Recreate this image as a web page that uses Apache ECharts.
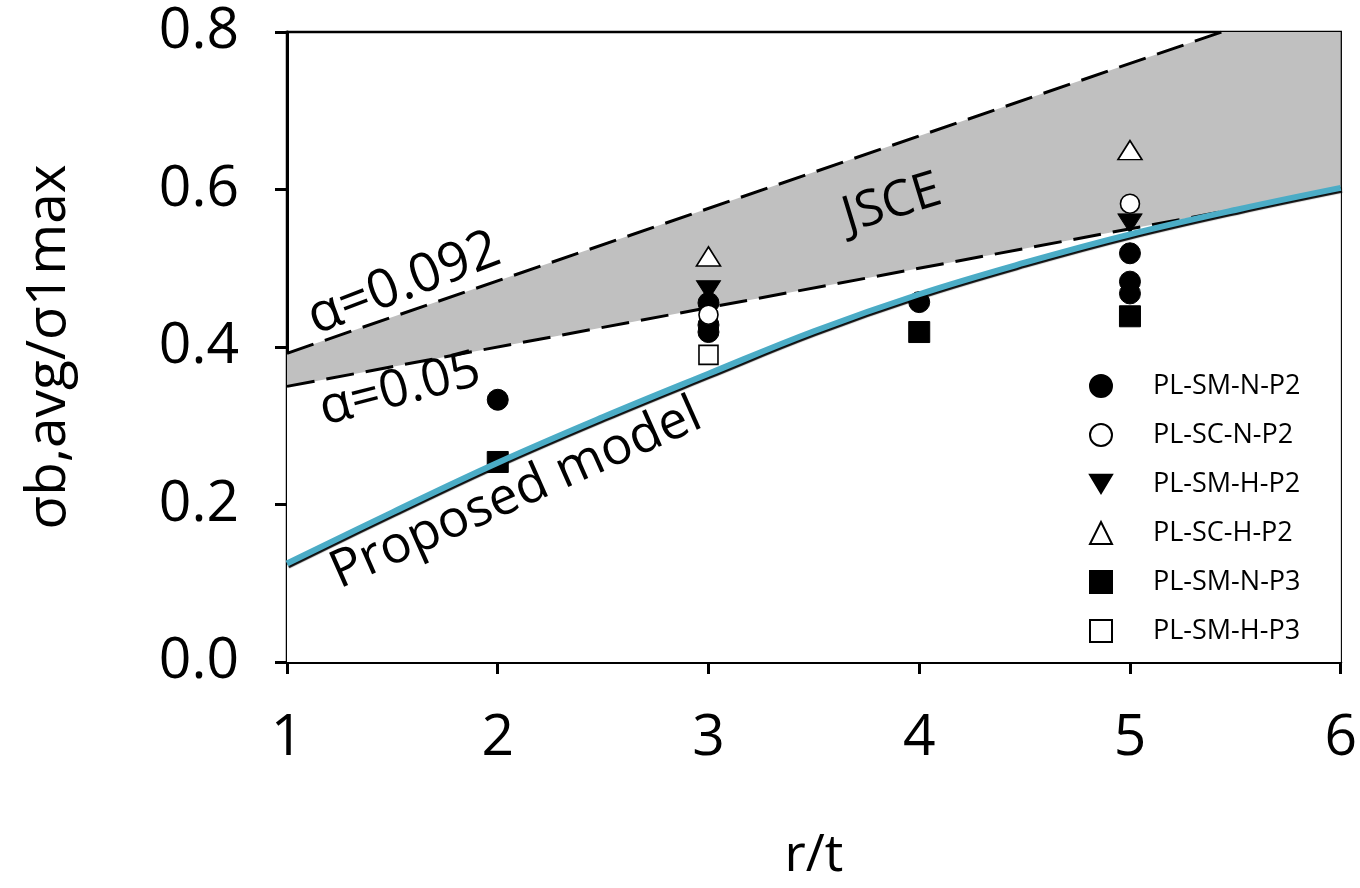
<!DOCTYPE html>
<html>
<head>
<meta charset="utf-8">
<script src="https://cdn.jsdelivr.net/npm/echarts@6/dist/echarts.min.js"></script>
<style>html,body{margin:0;padding:0;background:#fff;}#c{width:1360px;height:888px;}</style>
</head>
<body>
<div id="c"></div>
<script>
// ---- data ----
var xTicks = [1, 2, 3, 4, 5, 6];
var yTicks = [0.0, 0.2, 0.4, 0.6, 0.8];

// JSCE bounds (straight lines), endpoints at r/t = 1 and 6
var jsceX = [1, 6];
var jsceUpper = [0.392, 0.852];   // alpha = 0.092
var jsceLower = [0.350, 0.600];   // alpha = 0.05

// Proposed model curve
var modelX = [1, 1.5, 2, 2.5, 3, 3.5, 4, 4.5, 5, 5.5, 6];
var modelY = [0.125, 0.190, 0.253, 0.311, 0.366, 0.420, 0.467, 0.507, 0.543, 0.574, 0.602];

// Test results
var smNP2 = [[2, 0.333], [3, 0.456], [3, 0.428], [3, 0.419], [4, 0.457], [5, 0.519], [5, 0.483], [5, 0.468]];
var scNP2 = [[3, 0.441], [5, 0.582]];
var smHP2 = [[3, 0.472], [5, 0.557]];
var scHP2 = [[3, 0.515], [5, 0.650]];
var smNP3 = [[2, 0.254], [4, 0.419], [5, 0.439]];
var smHP3 = [[3, 0.390]];

var seriesNames = ['PL-SM-N-P2', 'PL-SC-N-P2', 'PL-SM-H-P2', 'PL-SC-H-P2', 'PL-SM-N-P3', 'PL-SM-H-P3'];

// ---- build ----
function zip(xs, ys) { return xs.map(function (x, i) { return [x, ys[i]]; }); }
var FONT = 'Open Sans';
var triDown = 'path://M0,0L24,0L12,20Z';

var chart = echarts.init(document.getElementById('c'), null, { renderer: 'canvas' });
var filled = { color: '#000', borderColor: '#000', borderWidth: 1, opacity: 1 };
var open = { color: '#fff', borderColor: '#000', borderWidth: 1.6, opacity: 1 };

var option = {
  animation: false,
  backgroundColor: '#fff',
  grid: { left: 287, right: 18, top: 32, bottom: 226, show: true, borderColor: '#000', borderWidth: 2.5, backgroundColor: 'transparent' },
  xAxis: {
    type: 'value', min: xTicks[0], max: xTicks[xTicks.length - 1], interval: 1,
    name: 'r/t', nameLocation: 'middle', nameGap: 168,
    nameTextStyle: { fontFamily: FONT, fontSize: 52, color: '#000' },
    axisLine: { show: true, onZero: false, lineStyle: { color: '#000', width: 3 } },
    axisTick: { show: true, inside: false, length: 12, lineStyle: { color: '#000', width: 3 } },
    axisLabel: { fontFamily: FONT, fontSize: 57, color: '#000', margin: 48 },
    splitLine: { show: false }
  },
  yAxis: {
    type: 'value', min: yTicks[0], max: yTicks[yTicks.length - 1], interval: 0.2,
    name: 'σb,avg/σ1max', nameLocation: 'middle', nameGap: 210, nameRotate: 90,
    nameTextStyle: { fontFamily: FONT, fontSize: 55, color: '#000' },
    axisLine: { show: true, onZero: false, lineStyle: { color: '#000', width: 3 } },
    axisTick: { show: true, inside: false, length: 12, lineStyle: { color: '#000', width: 3 } },
    axisLabel: { fontFamily: FONT, fontSize: 57, color: '#000', margin: 48, formatter: function (v) { return v.toFixed(1); } },
    splitLine: { show: false }
  },
  legend: {
    orient: 'vertical', left: 1084, top: 366,
    itemWidth: 22, itemHeight: 22, itemGap: 19,
    data: seriesNames,
    textStyle: { fontFamily: FONT, fontSize: 27, color: '#000', lineHeight: 30, padding: [0, 0, 0, 36] }
  },
  series: [
    { name: 'upperArea', type: 'line', data: zip(jsceX, jsceUpper), symbol: 'none', silent: true,
      lineStyle: { width: 0, opacity: 0 }, areaStyle: { color: '#C0C0C0', opacity: 1, origin: 'start' }, z: 1 },
    { name: 'lowerArea', type: 'line', data: zip(jsceX, jsceLower), symbol: 'none', silent: true,
      lineStyle: { width: 0, opacity: 0 }, areaStyle: { color: '#FFFFFF', opacity: 1, origin: 'start' }, z: 2 },
    { name: 'a092', type: 'line', data: zip(jsceX, jsceUpper), symbol: 'none', silent: true,
      lineStyle: { color: '#000', width: 3, type: [28, 12] }, z: 3 },
    { name: 'a05', type: 'line', data: zip(jsceX, jsceLower), symbol: 'none', silent: true,
      lineStyle: { color: '#000', width: 3, type: [28, 12] }, z: 3 },
    { name: seriesNames[0], type: 'scatter', data: smNP2, symbol: 'circle', symbolSize: 21, itemStyle: filled, z: 5 },
    { name: seriesNames[1], type: 'scatter', data: scNP2, symbol: 'circle', symbolSize: 19, itemStyle: open, z: 6 },
    { name: seriesNames[2], type: 'scatter', data: smHP2, symbol: triDown, symbolSize: [24, 19], itemStyle: filled, z: 5 },
    { name: seriesNames[3], type: 'scatter', data: scHP2, symbol: 'triangle', symbolSize: [24, 19], itemStyle: open, z: 6 },
    { name: seriesNames[4], type: 'scatter', data: smNP3, symbol: 'rect', symbolSize: 21, itemStyle: filled, z: 5 },
    { name: seriesNames[5], type: 'scatter', data: smHP3, symbol: 'rect', symbolSize: 19, itemStyle: open, z: 6 },
    { name: 'model', type: 'line', data: zip(modelX, modelY), symbol: 'none', smooth: 0.4, silent: true,
      lineStyle: { color: '#4BACC6', width: 6, shadowColor: 'rgba(0,0,0,0.95)', shadowBlur: 1, shadowOffsetX: 1, shadowOffsetY: 2 }, z: 8 }
  ],
  graphic: [
    { type: 'text', x: 404, y: 284, rotation: 21 * Math.PI / 180, z: 20,
      style: { text: 'α=0.092', fontFamily: FONT, fontSize: 54, fill: '#000', align: 'center', verticalAlign: 'middle' } },
    { type: 'text', x: 400, y: 390, rotation: 14.5 * Math.PI / 180, z: 20,
      style: { text: 'α=0.05', fontFamily: FONT, fontSize: 52, fill: '#000', align: 'center', verticalAlign: 'middle' } },
    { type: 'text', x: 892, y: 204, rotation: 17 * Math.PI / 180, z: 20,
      style: { text: 'JSCE', fontFamily: FONT, fontSize: 50, fill: '#000', align: 'center', verticalAlign: 'middle' } },
    { type: 'text', x: 516, y: 494, rotation: 24 * Math.PI / 180, z: 20,
      style: { text: 'Proposed model', fontFamily: FONT, fontSize: 52, fill: '#000', align: 'center', verticalAlign: 'middle' } }
  ]
};
chart.setOption(option);
</script>
</body>
</html>
